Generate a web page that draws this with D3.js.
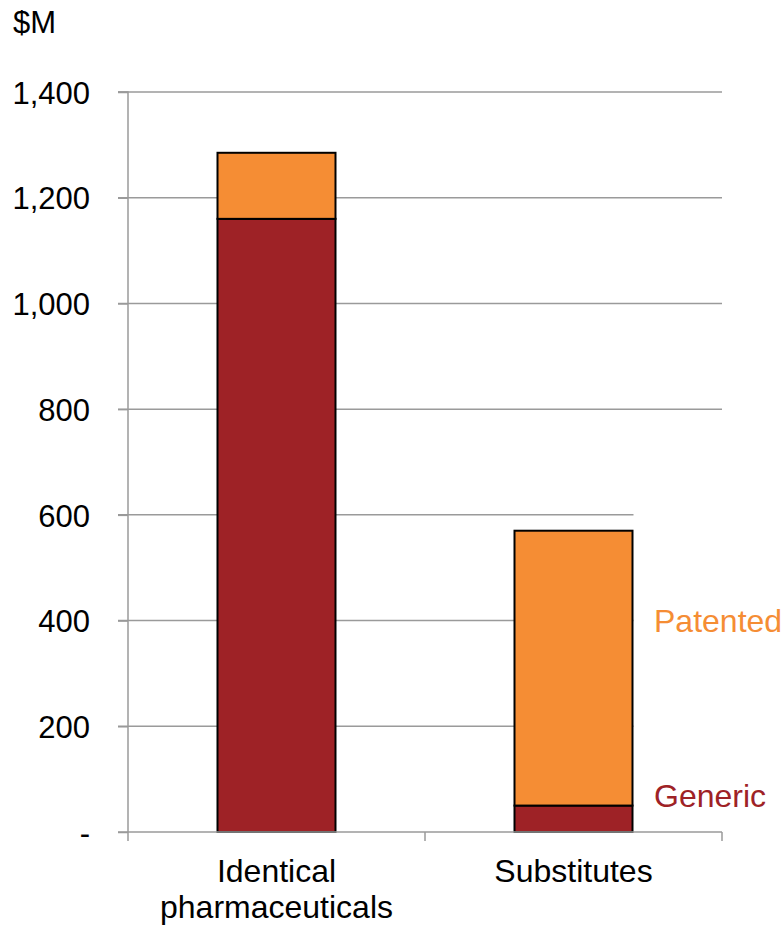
<!DOCTYPE html>
<html>
<head>
<meta charset="utf-8">
<script src="https://cdn.jsdelivr.net/npm/d3@7"></script>
<style>
  html, body { margin: 0; padding: 0; background: #fff; }
  svg { display: block; font-family: "Liberation Sans", Arial, Helvetica, sans-serif; }
</style>
</head>
<body>
<svg id="chart" width="783" height="926"></svg>
<script>
const categories = ["Identical pharmaceuticals", "Substitutes"];
const categoryLines = [["Identical", "pharmaceuticals"], ["Substitutes"]];
const seriesNames = ["Generic", "Patented"];
const genericValues = [1160, 50];
const patentedValues = [125, 520];
const yTicks = [0, 200, 400, 600, 800, 1000, 1200, 1400];
const yTickLabels = ["-", "200", "400", "600", "800", "1,000", "1,200", "1,400"];
const colors = { Generic: "#9E2226", Patented: "#F58D34" };

const svg = d3.select("#chart");
const plotLeft = 128, plotRight = 722, plotTop = 92, plotBottom = 832;

const x = d3.scaleBand().domain(categories).range([plotLeft, plotRight]).paddingInner(0.6027).paddingOuter(0.30135);
const y = d3.scaleLinear().domain([0, 1400]).range([plotBottom, plotTop]);

// gridlines
svg.append("g").selectAll("line").data(yTicks.filter(d => d > 0)).join("line")
  .attr("x1", plotLeft - 10).attr("x2", plotRight)
  .attr("y1", d => y(d)).attr("y2", d => y(d))
  .attr("stroke", "#9a9a9a").attr("stroke-width", 1.5);

// y axis
const yAxis = d3.axisLeft(y).tickValues(yTicks).tickSize(10).tickFormat((d, i) => yTickLabels[i]);
const gy = svg.append("g").attr("transform", `translate(${plotLeft},0)`).call(yAxis);
gy.select(".domain").attr("stroke", "#9a9a9a").attr("stroke-width", 1.5).attr("d", `M-10,${plotTop}H0V${plotBottom}`);
gy.selectAll(".tick line").attr("stroke", "#9a9a9a").attr("stroke-width", 1.5);
gy.selectAll(".tick text").attr("x", -38).attr("dy", "0.36em").attr("font-size", 31).attr("fill", "#000")
  .attr("font-family", "Liberation Sans, Arial, sans-serif");

// stacked data
const rows = categories.map((c, i) => ({ cat: c, Generic: genericValues[i], Patented: patentedValues[i] }));
const stack = d3.stack().keys(seriesNames)(rows);

// legend white box (covers gridlines to the right of the substitutes bar)
svg.append("rect").attr("x", x("Substitutes") + x.bandwidth() + 1).attr("y", y(670))
  .attr("width", 200).attr("height", y(10) - y(670)).attr("fill", "#fff");

svg.append("g").selectAll("g").data(stack).join("g")
  .attr("fill", d => colors[d.key])
  .selectAll("rect").data(d => d).join("rect")
  .attr("x", d => x(d.data.cat))
  .attr("width", x.bandwidth())
  .attr("y", d => y(d[1]))
  .attr("height", d => y(d[0]) - y(d[1]))
  .attr("stroke", "#000").attr("stroke-width", 2);

// x axis
const gx = svg.append("g").attr("transform", `translate(0,${plotBottom})`);
gx.append("line").attr("x1", plotLeft - 10).attr("x2", plotRight).attr("y1", 0).attr("y2", 0)
  .attr("stroke", "#9a9a9a").attr("stroke-width", 1.5);
const bounds = [plotLeft, x.step() + plotLeft, plotRight];
gx.selectAll("line.tk").data(bounds).join("line").attr("class", "tk")
  .attr("x1", d => d).attr("x2", d => d).attr("y1", 0).attr("y2", 9)
  .attr("stroke", "#9a9a9a").attr("stroke-width", 1.5);

// category labels
categories.forEach((c, i) => {
  const t = svg.append("text").attr("x", x(c) + x.bandwidth() / 2).attr("y", 882)
    .attr("text-anchor", "middle").attr("font-size", 32).attr("fill", "#000");
  categoryLines[i].forEach((ln, j) => {
    t.append("tspan").attr("x", x(c) + x.bandwidth() / 2).attr("dy", j === 0 ? 0 : 36).text(ln);
  });
});

// series labels
svg.append("text").attr("x", 654).attr("y", 632).attr("font-size", 32).attr("fill", colors.Patented).text("Patented");
svg.append("text").attr("x", 654).attr("y", 807).attr("font-size", 32).attr("fill", colors.Generic).text("Generic");

// unit
svg.append("text").attr("x", 13).attr("y", 33).attr("font-size", 31).attr("fill", "#000").text("$M");
</script>
</body>
</html>
